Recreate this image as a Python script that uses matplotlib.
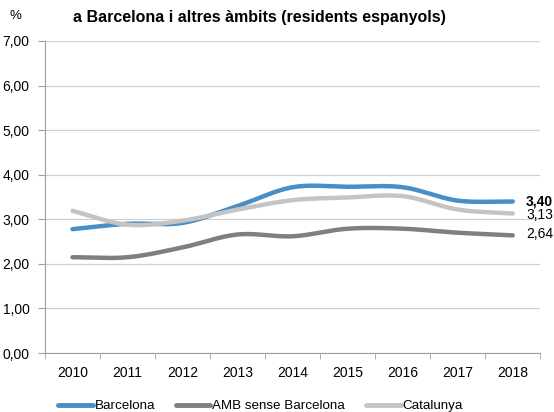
import numpy as np
import matplotlib
matplotlib.use("Agg")
import matplotlib.pyplot as plt

years = ["2010", "2011", "2012", "2013", "2014", "2015", "2016", "2017", "2018"]
barcelona = [2.78, 2.90, 2.92, 3.30, 3.72, 3.73, 3.72, 3.42, 3.40]
amb = [2.15, 2.15, 2.37, 2.66, 2.62, 2.79, 2.79, 2.70, 2.64]
catalunya = [3.19, 2.88, 2.97, 3.22, 3.43, 3.49, 3.52, 3.22, 3.13]
series_names = ["Barcelona", "AMB sense Barcelona", "Catalunya"]
colors = ["#4a8ec6", "#7f7f7f", "#c4c4c4"]
end_labels = ["3,40", "2,64", "3,13"]

plt.rcParams['font.family'] = ['Liberation Sans', 'DejaVu Sans']

def smooth(x, y, n=30):
    x = np.asarray(x, float); y = np.asarray(y, float)
    px = np.concatenate([[2*x[0]-x[1]], x, [2*x[-1]-x[-2]]])
    py = np.concatenate([[2*y[0]-y[1]], y, [2*y[-1]-y[-2]]])
    xs, ys = [], []
    for i in range(1, len(px)-2):
        t = np.linspace(0, 1, n, endpoint=False)
        for arr, out in ((px, xs), (py, ys)):
            p0, p1, p2, p3 = arr[i-1], arr[i], arr[i+1], arr[i+2]
            out.extend(0.5*((2*p1) + (-p0+p2)*t + (2*p0-5*p1+4*p2-p3)*t**2 + (-p0+3*p1-3*p2+p3)*t**3))
    xs.append(x[-1]); ys.append(y[-1])
    return np.array(xs), np.array(ys)

fig = plt.figure(figsize=(5.54, 4.12), dpi=100)
ax = fig.add_axes([0.0812, 0.143, 0.894, 0.7575])
x = np.arange(len(years))
for vals, name, c in zip([barcelona, amb, catalunya], series_names, colors):
    sx, sy = smooth(x, vals)
    ax.plot(sx, sy, color=c, lw=3.2, solid_capstyle='round', label=name)

ax.set_xlim(-0.5, len(years)-0.5)
ax.set_ylim(0, 7)
ax.set_yticks(np.arange(0, 7.01, 1))
ax.set_yticklabels([f"{v:.2f}".replace(".", ",") for v in np.arange(0, 7.01, 1)], fontsize=10)
ax.set_xticks(x)
ax.set_xticklabels(years, fontsize=10)
ax.set_xticks(np.arange(-0.5, len(years), 1), minor=True)
ax.tick_params(axis='x', which='major', length=0, pad=9)
ax.tick_params(axis='x', which='minor', length=4, color='#a0a0a0')
ax.tick_params(axis='y', length=5, color='#a0a0a0', pad=6)
ax.grid(axis='y', color='#d0d0d0', lw=0.9)
ax.set_axisbelow(True)
for s in ['top', 'right']:
    ax.spines[s].set_visible(False)
for s in ['left', 'bottom']:
    ax.spines[s].set_color('#a0a0a0')

# end labels
ax.text(8.24, barcelona[-1] - 0.0, end_labels[0], fontsize=10, fontweight='bold', va='center', ha='left')
ax.text(8.24, catalunya[-1] - 0.03, end_labels[2], fontsize=10, va='center', ha='left')
ax.text(8.24, amb[-1] + 0.04, end_labels[1], fontsize=10, va='center', ha='left')

fig.text(0.018, 0.96, "%", fontsize=9.5, va='center')
fig.text(0.468, 0.958, "a Barcelona i altres àmbits (residents espanyols)", fontsize=11.5,
         fontweight='bold', ha='center', va='center')

leg = fig.legend(*ax.get_legend_handles_labels(), loc='center left',
                 bbox_to_anchor=(58/554, 1 - 406/412), bbox_transform=fig.transFigure,
                 ncol=3, frameon=False,
                 fontsize=9.6, handlelength=2.6, handletextpad=0.15, columnspacing=1.55,
                 borderaxespad=0, borderpad=0)
for h in leg.get_lines():
    h.set_linewidth(3.5)

fig.savefig("out.png", dpi=100)
